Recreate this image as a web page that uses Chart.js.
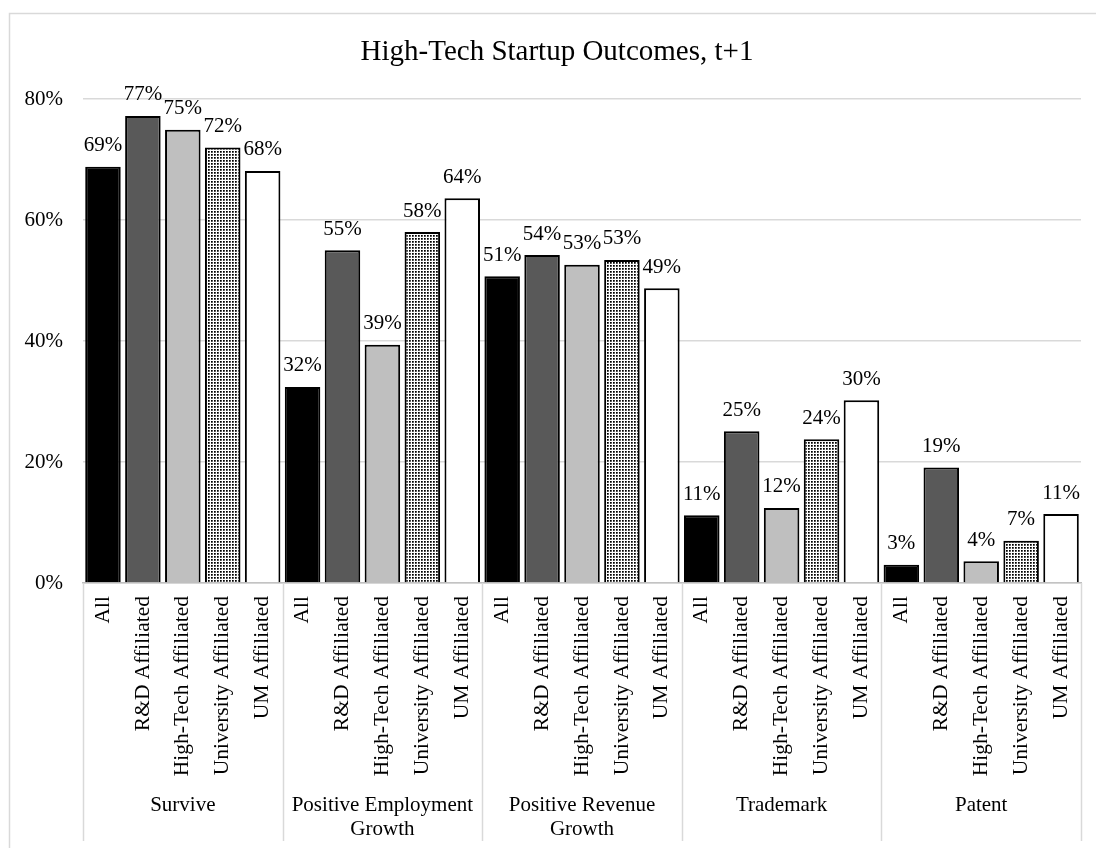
<!DOCTYPE html>
<html>
<head>
<meta charset="utf-8">
<title>High-Tech Startup Outcomes, t+1</title>
<script src="https://cdn.jsdelivr.net/npm/chart.js@4.4.1/dist/chart.umd.min.js"></script>
<style>
  html, body { margin: 0; padding: 0; background: #ffffff; }
  #wrap { width: 1096px; height: 848px; position: relative; }
  canvas { display: block; }
</style>
</head>
<body>
<div id="wrap"><canvas id="chart" width="1096" height="848"></canvas></div>
<script>
// Chart heading
const chartTitle = 'High-Tech Startup Outcomes, t+1';
// Outcome groups along the axis (arrays split into lines)
const groups = ['Survive', ['Positive Employment', 'Growth'], ['Positive Revenue', 'Growth'], 'Trademark', 'Patent'];
// Firm categories inside each group
const seriesNames = ['All', 'R&D Affiliated', 'High-Tech Affiliated', 'University Affiliated', 'UM Affiliated'];

// Share of startups (%) for each outcome group, one array per firm category
const allFirms             = [68.8, 32.4, 50.7, 11.2, 3.0];
const rdAffiliated         = [77.2, 55.0, 54.2, 25.1, 19.1];
const highTechAffiliated   = [74.9, 39.4, 52.6, 12.4, 3.6];
const universityAffiliated = [72.0, 58.0, 53.4, 23.75, 7.0];
const umAffiliated         = [68.1, 63.6, 48.7, 30.2, 11.4];

// Value axis tick marks (%)
const yTicks = [0, 20, 40, 60, 80];

const FONT = "'Liberation Serif', 'Times New Roman', serif";

// Dot texture for the University Affiliated bars
function dotPattern() {
  const c = document.createElement('canvas');
  c.width = 3; c.height = 3;
  const g = c.getContext('2d');
  g.fillStyle = '#ffffff';
  g.fillRect(0, 0, 3, 3);
  g.fillStyle = '#000000';
  g.fillRect(1, 1, 1, 1);
  g.fillStyle = 'rgba(0,0,0,0.75)';
  g.fillRect(2, 1, 1, 1);
  g.fillRect(1, 2, 1, 1);
  g.fillStyle = 'rgba(0,0,0,0.55)';
  g.fillRect(2, 2, 1, 1);
  return document.getElementById('chart').getContext('2d').createPattern(c, 'repeat');
}

const seriesValues = [allFirms, rdAffiliated, highTechAffiliated, universityAffiliated, umAffiliated];
const seriesFills = ['#000000', '#595959', '#bfbfbf', dotPattern(), '#ffffff'];

// Flatten to one bar per (group, category) slot, group-major
const labels = [], values = [], fills = [];
groups.forEach((g, gi) => {
  seriesNames.forEach((s, si) => {
    labels.push(s);
    values.push(seriesValues[si][gi]);
    fills.push(seriesFills[si]);
  });
});

// White background, light frame and the heading
const framePlugin = {
  id: 'frame',
  beforeDraw(chart) {
    const ctx = chart.ctx;
    ctx.save();
    ctx.fillStyle = '#ffffff';
    ctx.fillRect(0, 0, chart.width, chart.height);
    ctx.strokeStyle = '#d9d9d9';
    ctx.lineWidth = 1.5;
    ctx.strokeRect(9.5, 13.5, 1200, 1000);
    ctx.fillStyle = '#000000';
    ctx.font = '29px ' + FONT;
    ctx.textAlign = 'center';
    ctx.textBaseline = 'alphabetic';
    ctx.fillText(chartTitle, 557, 60);
    ctx.restore();
  }
};

// Percent labels above each bar
const valueLabelPlugin = {
  id: 'valueLabels',
  afterDatasetsDraw(chart) {
    const ctx = chart.ctx;
    const meta = chart.getDatasetMeta(0);
    ctx.save();
    ctx.font = '21px ' + FONT;
    ctx.fillStyle = '#000000';
    ctx.textAlign = 'center';
    ctx.textBaseline = 'alphabetic';
    meta.data.forEach((bar, i) => {
      const v = chart.data.datasets[0].data[i];
      ctx.fillText(Math.round(v) + '%', bar.x, bar.y - 15.5);
    });
    ctx.restore();
  }
};

// Two-level category axis: rotated category names, group names and dividers
const groupAxisPlugin = {
  id: 'groupAxis',
  afterDraw(chart) {
    const ctx = chart.ctx;
    const xs = chart.scales.x;
    const area = chart.chartArea;
    const n = chart.data.labels.length;
    const slot = (area.right - area.left) / n;
    const per = seriesNames.length;
    ctx.save();

    // dividers between groups
    ctx.strokeStyle = '#d9d9d9';
    ctx.lineWidth = 1.5;
    for (let g = 0; g <= groups.length; g++) {
      const x = Math.round(area.left + g * per * slot) + 0.5;
      ctx.beginPath();
      ctx.moveTo(x, area.bottom);
      ctx.lineTo(x, 841);
      ctx.stroke();
    }

    // rotated category names
    ctx.fillStyle = '#000000';
    ctx.font = '21.5px ' + FONT;
    ctx.textAlign = 'right';
    ctx.textBaseline = 'middle';
    chart.data.labels.forEach((lab, i) => {
      const x = xs.getPixelForValue(i);
      ctx.save();
      ctx.translate(x, area.bottom + 13);
      ctx.rotate(-Math.PI / 2);
      ctx.fillText(lab, 0, 0);
      ctx.restore();
    });

    // group names
    ctx.font = '21px ' + FONT;
    ctx.textAlign = 'center';
    ctx.textBaseline = 'alphabetic';
    groups.forEach((g, gi) => {
      const x = xs.getPixelForValue(gi * per + (per - 1) / 2);
      const lines = Array.isArray(g) ? g : [g];
      lines.forEach((line, li) => {
        ctx.fillText(line, x, 811 + li * 24);
      });
    });
    ctx.restore();
  }
};

new Chart(document.getElementById('chart'), {
  type: 'bar',
  data: {
    labels: labels,
    datasets: [{
      data: values,
      backgroundColor: fills,
      borderColor: '#000000',
      borderWidth: 2,
      barPercentage: 0.89,
      categoryPercentage: 1.0
    }]
  },
  options: {
    responsive: false,
    animation: false,
    devicePixelRatio: 1,
    layout: { padding: { left: 0, right: 15, top: 99, bottom: 265 } },
    plugins: {
      legend: { display: false },
      tooltip: { enabled: false },
      title: { display: false }
    },
    scales: {
      x: {
        type: 'category',
        ticks: { display: false },
        grid: { display: false },
        border: { display: true, color: '#bfbfbf', width: 1.5 },
        afterFit(scale) { scale.height = 0; }
      },
      y: {
        min: 0,
        max: 80,
        afterBuildTicks(scale) { scale.ticks = yTicks.map(v => ({ value: v })); },
        afterFit(scale) { scale.width = 83; },
        ticks: {
          padding: 20,
          color: '#000000',
          font: { family: FONT, size: 21 },
          callback: (v) => v + '%'
        },
        grid: { color: '#d9d9d9', lineWidth: 1.5, drawTicks: false },
        border: { display: false }
      }
    }
  },
  plugins: [framePlugin, valueLabelPlugin, groupAxisPlugin]
});
</script>
</body>
</html>
